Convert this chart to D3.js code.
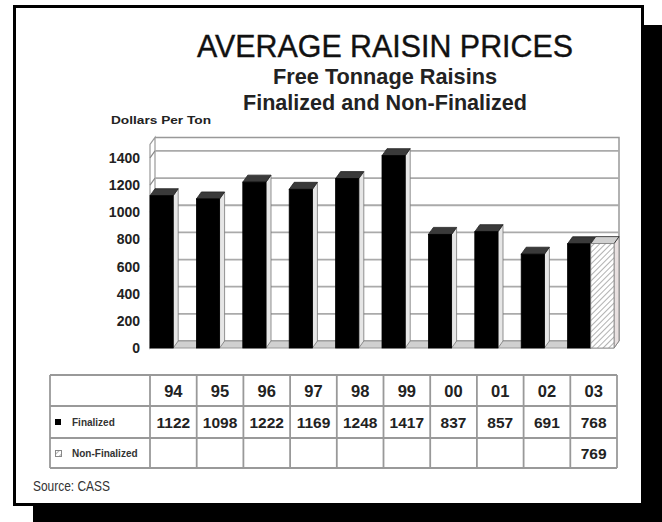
<!DOCTYPE html>
<html>
<head>
<meta charset="utf-8">
<script src="https://cdn.jsdelivr.net/npm/d3@7"></script>
<style>
  html, body { margin: 0; padding: 0; background: #fff; }
  svg { display: block; font-family: "Liberation Sans", Arial, sans-serif; }
</style>
</head>
<body>
<svg id="chart" width="662" height="522"></svg>
<script>
// ---- data ----
const years = ["94", "95", "96", "97", "98", "99", "00", "01", "02", "03"];
const finalized = [1122, 1098, 1222, 1169, 1248, 1417, 837, 857, 691, 768];
const nonFinalized = [null, null, null, null, null, null, null, null, null, 769];
const yTicks = [0, 200, 400, 600, 800, 1000, 1200, 1400];
const seriesNames = ["Finalized", "Non-Finalized"];
const titleText = "AVERAGE RAISIN PRICES";
const subtitle1 = "Free Tonnage Raisins";
const subtitle2 = "Finalized and Non-Finalized";
const yAxisTitle = "Dollars Per Ton";
const sourceText = "Source: CASS";

const svg = d3.select("#chart");

// pattern for hatched bar
const defs = svg.append("defs");
const pat = defs.append("pattern")
  .attr("id", "hatch").attr("patternUnits", "userSpaceOnUse")
  .attr("width", 4).attr("height", 4)
  .attr("patternTransform", "rotate(45)");
pat.append("rect").attr("width", 4).attr("height", 4).attr("fill", "#fff");
pat.append("line").attr("x1", 0).attr("y1", 0).attr("x2", 0).attr("y2", 4)
  .attr("stroke", "#888").attr("stroke-width", 1.3);

// shadow + frame
svg.append("rect").attr("x", 33).attr("y", 25).attr("width", 640).attr("height", 510).attr("fill", "#000");
svg.append("rect").attr("x", 14.5).attr("y", 6.5).attr("width", 628).attr("height", 498)
  .attr("fill", "#fff").attr("stroke", "#000").attr("stroke-width", 3);

// titles
svg.append("text").attr("x", 385).attr("y", 57).attr("text-anchor", "middle")
  .attr("font-size", 32).attr("fill", "#111").attr("stroke", "#111").attr("stroke-width", 0.4)
  .attr("textLength", 376).attr("lengthAdjust", "spacingAndGlyphs").text(titleText);
svg.append("text").attr("x", 385).attr("y", 84).attr("text-anchor", "middle")
  .attr("font-size", 22).attr("font-weight", "bold").attr("fill", "#222")
  .attr("textLength", 224).attr("lengthAdjust", "spacingAndGlyphs").text(subtitle1);
svg.append("text").attr("x", 385).attr("y", 110).attr("text-anchor", "middle")
  .attr("font-size", 22).attr("font-weight", "bold").attr("fill", "#222")
  .attr("textLength", 284).attr("lengthAdjust", "spacingAndGlyphs").text(subtitle2);
svg.append("text").attr("x", 111).attr("y", 124)
  .attr("font-size", 11.5).attr("font-weight", "bold").attr("fill", "#222")
  .attr("textLength", 100).attr("lengthAdjust", "spacingAndGlyphs").text(yAxisTitle);

// scales
const x = d3.scaleBand().domain(years).range([150, 614]).paddingInner(0).paddingOuter(0);
const y = d3.scaleLinear().domain([0, 1500]).range([348, 144.4]);
const DX = 5, DY = -7;
const bw = x.bandwidth() / 2;
const xL = x.range()[0], xR = x.range()[1];

const grid = svg.append("g");
// left wall outline
grid.append("path")
  .attr("d", `M${xL},${y(0)} L${xL},${y(1500)} L${xL + DX},${y(1500) + DY} L${xL + DX},${y(0) + DY} Z`)
  .attr("fill", "#fff").attr("stroke", "#999").attr("stroke-width", 1.2);
// back wall outline
grid.append("path")
  .attr("d", `M${xL + DX},${y(1500) + DY} L${xR + DX},${y(1500) + DY} L${xR + DX},${y(0) + DY}`)
  .attr("fill", "none").attr("stroke", "#999").attr("stroke-width", 1.5);
// gridlines
yTicks.forEach(t => {
  grid.append("line").attr("x1", xL).attr("y1", y(t)).attr("x2", xL + DX).attr("y2", y(t) + DY)
    .attr("stroke", "#888").attr("stroke-width", 1.2);
  grid.append("line").attr("x1", xL + DX).attr("y1", y(t) + DY).attr("x2", xR + DX).attr("y2", y(t) + DY)
    .attr("stroke", "#aaa").attr("stroke-width", 1.8);
});
// floor
grid.append("path")
  .attr("d", `M${xL},${y(0)} L${xR},${y(0)} L${xR + DX},${y(0) + DY} L${xL + DX},${y(0) + DY} Z`)
  .attr("fill", "#d0d0d0").attr("stroke", "#999").attr("stroke-width", 1);

// y axis labels
svg.append("g").selectAll("text").data(yTicks).join("text")
  .attr("x", 140).attr("y", d => y(d) + 5).attr("text-anchor", "end")
  .attr("font-size", 14).attr("font-weight", "bold").attr("fill", "#222").text(d => d);

// 3D bar
function bar3d(g, x0, v, front, top, side) {
  const yt = y(v), yb = y(0);
  g.append("path")
    .attr("d", `M${x0 + bw},${yb} L${x0 + bw + DX},${yb + DY} L${x0 + bw + DX},${yt + DY} L${x0 + bw},${yt} Z`)
    .attr("fill", side).attr("stroke", "#777").attr("stroke-width", 0.8);
  g.append("path")
    .attr("d", `M${x0},${yt} L${x0 + DX},${yt + DY} L${x0 + bw + DX},${yt + DY} L${x0 + bw},${yt} Z`)
    .attr("fill", top).attr("stroke", "#222").attr("stroke-width", 0.8);
  g.append("rect").attr("x", x0).attr("y", yt).attr("width", bw).attr("height", yb - yt)
    .attr("fill", front).attr("stroke", front === "#000" ? "#000" : "#888").attr("stroke-width", 0.8);
}
const bars = svg.append("g");
years.forEach((yr, i) => {
  if (finalized[i] != null) bar3d(bars, x(yr), finalized[i], "#000", "#3a3a3a", "#e6e6e6");
  if (nonFinalized[i] != null) bar3d(bars, x(yr) + bw, nonFinalized[i], "url(#hatch)", "#d0d0d0", "#e8e0e0");
});

// data table
const tx = d3.scaleBand().domain(years).range([150, 617]);
const tLeft = 50, rowsY = [375, 406, 438, 468];
const tbl = svg.append("g");
const lineC = "#999";
rowsY.forEach(r => tbl.append("line").attr("x1", tLeft).attr("x2", 617).attr("y1", r).attr("y2", r)
  .attr("stroke", lineC).attr("stroke-width", 1.8));
[tLeft, ...years.map(d => tx(d)), 617].forEach(c => tbl.append("line")
  .attr("x1", c).attr("x2", c).attr("y1", rowsY[0]).attr("y2", rowsY[3])
  .attr("stroke", lineC).attr("stroke-width", 1.8));

tbl.selectAll("text.hdr").data(years).join("text").attr("class", "hdr")
  .attr("x", d => tx(d) + tx.bandwidth() / 2).attr("y", 397).attr("text-anchor", "middle")
  .attr("font-size", 16.5).attr("font-weight", "bold").attr("fill", "#222").text(d => d);
tbl.selectAll("text.fin").data(years).join("text").attr("class", "fin")
  .attr("x", d => tx(d) + tx.bandwidth() / 2).attr("y", 428).attr("text-anchor", "middle")
  .attr("font-size", 15.5).attr("font-weight", "bold").attr("fill", "#222")
  .text((d, i) => finalized[i] == null ? "" : finalized[i]);
tbl.selectAll("text.non").data(years).join("text").attr("class", "non")
  .attr("x", d => tx(d) + tx.bandwidth() / 2).attr("y", 459).attr("text-anchor", "middle")
  .attr("font-size", 15.5).attr("font-weight", "bold").attr("fill", "#222")
  .text((d, i) => nonFinalized[i] == null ? "" : nonFinalized[i]);

// legend swatches + row labels
tbl.append("rect").attr("x", 55).attr("y", 419).attr("width", 6).attr("height", 6).attr("fill", "#000");
tbl.append("rect").attr("x", 55.5).attr("y", 450.5).attr("width", 6).attr("height", 6)
  .attr("fill", "url(#hatch)").attr("stroke", "#888").attr("stroke-width", 1);
tbl.append("text").attr("x", 72).attr("y", 426).attr("font-size", 10).attr("font-weight", "bold")
  .attr("fill", "#333").text(seriesNames[0]);
tbl.append("text").attr("x", 72).attr("y", 457).attr("font-size", 10).attr("font-weight", "bold")
  .attr("fill", "#333").text(seriesNames[1]);

// source
svg.append("text").attr("x", 33).attr("y", 491).attr("font-size", 14)
  .attr("textLength", 77).attr("lengthAdjust", "spacingAndGlyphs")
  .attr("fill", "#333").text(sourceText);
</script>
</body>
</html>
